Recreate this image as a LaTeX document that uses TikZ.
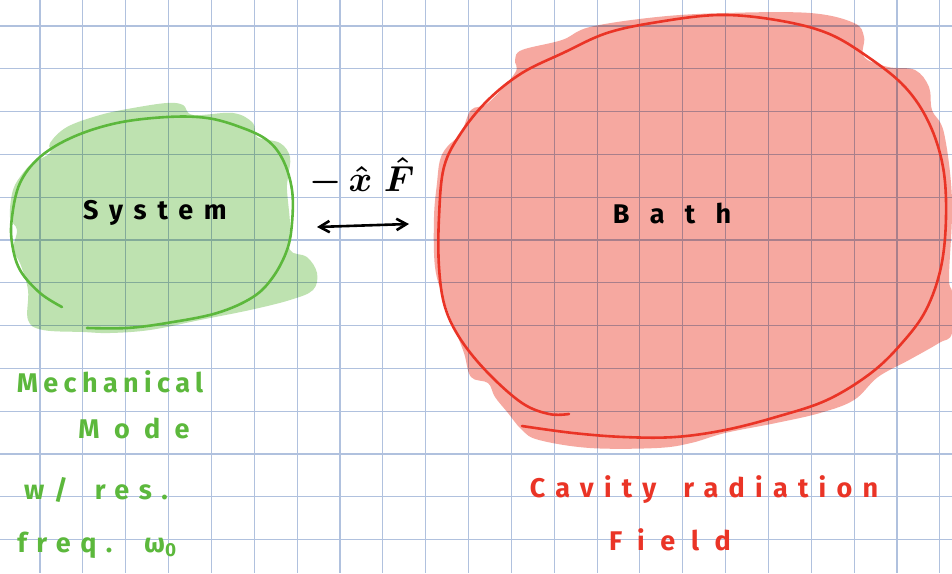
\documentclass[tikz,border=0pt]{standalone}
\usepackage{fontspec}
\newfontfamily\handfont[LetterSpace=35]{Fira Sans}
\usepackage{tikz}
\usetikzlibrary{arrows.meta}
\definecolor{GRline}{RGB}{176,193,222}
\definecolor{SYfill}{RGB}{190,226,176}
\definecolor{SYline}{RGB}{92,184,60}
\definecolor{BAfill}{RGB}{246,168,160}
\definecolor{BAline}{RGB}{234,52,38}
\newcommand{\handsp}[1]{\handfont\bfseries\fontsize{27}{30}\selectfont\addfontfeatures{LetterSpace=#1}}
\tikzset{
  gridline/.style={draw=GRline,line width=1.1pt},
  sysblob/.style={fill=SYfill,blend mode=multiply},
  bathblob/.style={fill=BAfill,blend mode=multiply},
  sysring/.style={draw=SYline,line width=2.6pt,line cap=round},
  bathring/.style={draw=BAline,line width=2.6pt,line cap=round},
  hand/.style={font=\handsp{35},text=black,inner sep=0pt},
  greennote/.style={hand,text=SYline},
  rednote/.style={hand,text=BAline},
  coup/.style={{Straight Barb[length=3.5mm,width=4mm]}-{Straight Barb[length=3.5mm,width=4mm]},line width=2.6pt}
}

\begin{document}
\begin{tikzpicture}[x=1pt,y=-1pt]
  \useasboundingbox[fill=white] (0,0) rectangle (952,573);
  % squared paper
  \foreach \k in {0,...,21}
    \draw[gridline] ({40+42.85*\k},0) -- ({40+42.85*\k},573);
  \foreach \k in {0,...,12}
    \draw[gridline] (0,{26+42.8*\k}) -- (952,{26+42.8*\k});
  % highlighter blobs
  \fill[sysblob] plot[smooth cycle,tension=0.6] coordinates {
    (50,143) (67,127) (100,115) (133,108) (167,103) (183,105) (193,115)
    (233,113) (253,123) (257,137) (280,143) (290,157) (288,177) (287,190)
    (290,223) (290,250) (307,257) (317,273) (313,290) (290,300) (250,310)
    (200,320) (150,330) (110,333) (83,332) (43,330) (28,320) (28,290)
    (20,263) (13,250) (17,230) (10,217) (13,190) (23,173) (33,163) (50,153)};
  \fill[bathblob] plot[smooth cycle,tension=0.6] coordinates {
    (522,50) (562,40) (590,27) (657,17) (725,13) (810,13) (854,23) (864,37)
    (864,57) (888,67) (915,70) (929,87) (932,110) (944,133) (952,200)
    (949,277) (952,293) (952,333) (939,343) (909,360) (878,377) (854,400)
    (820,413) (776,423) (725,433) (691,443) (657,448) (590,448) (539,440)
    (522,430) (508,413) (495,397) (488,383) (471,377) (464,353) (454,327)
    (444,300) (435,267) (434,217) (437,183) (440,160) (447,147) (461,133)
    (471,110) (488,103) (515,73) (515,60)};
  % pen outlines
  \draw[sysring] plot[smooth,tension=0.6] coordinates {
    (62,307) (40,293) (20,270) (12,243) (12,217) (20,183) (40,157) (73,137)
    (117,123) (167,117) (207,118) (240,127) (267,140) (283,160) (292,190)
    (292,223) (287,250) (273,277) (253,297) (217,313) (167,323) (127,328)
    (87,328)};
  \draw[bathring] plot[smooth,tension=0.6] coordinates {
    (569,414) (549,414) (522,403) (488,373) (461,340) (445,307) (439,267)
    (439,217) (444,167) (461,133) (488,100) (522,73) (563,53) (607,33)
    (658,22) (719,15) (776,20) (827,33) (868,57) (905,87) (929,123)
    (943,167) (946,217) (941,267) (926,310) (902,343) (871,373) (827,400)
    (776,417) (725,430) (675,437) (624,437) (573,433) (522,426)};
  % labels
  \node[hand,font=\fontsize{24}{28}\selectfont\boldmath,scale=1.45] (coupling) at (362,177) {$-\,\hat{x}\;\hat{F}$};
  \node[hand,font=\handsp{40}] (sysname) at (155,213) {System};
  \node[hand,font=\handsp{75}] (bathname) at (672,213) {Bath};
  \coordinate (arrL) at (317,227);
  \coordinate (arrR) at (409,224);
  \draw[coup] (arrL) -- (arrR);
  \node[greennote,font=\handsp{20}] (mechA) at (110,382) {Mechanical};
  \node[greennote,font=\handsp{53}] (mechB) at (134,428) {Mode};
  \node[greennote] (resA) at (96,490) {w/\quad res.};
  \node[greennote] (resB) at (97,545) {freq.\ \ ω\textsubscript{0}};
  \node[rednote,font=\handsp{38}] (cavA) at (704,490) {Cavity\quad radiation};
  \node[rednote,font=\handsp{58}] (cavB) at (670,540) {Field};
\end{tikzpicture}
\end{document}
